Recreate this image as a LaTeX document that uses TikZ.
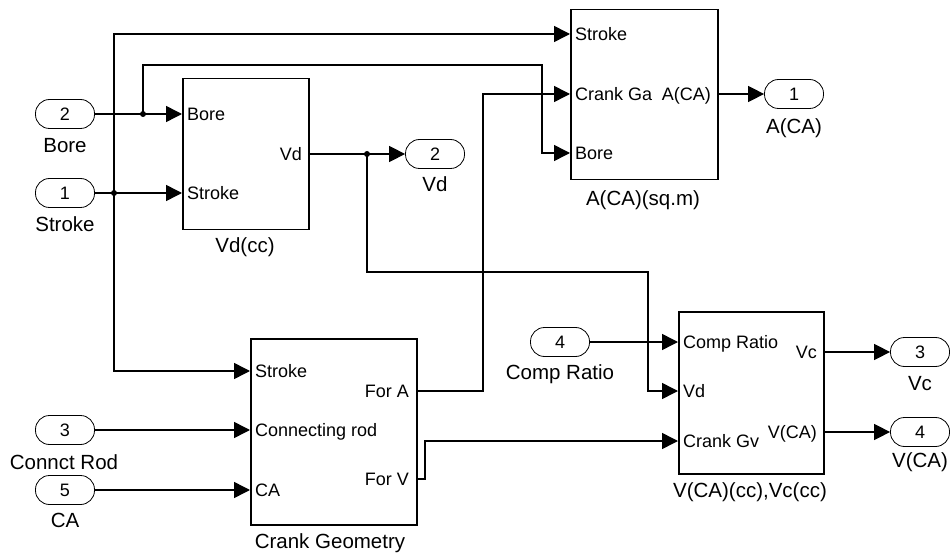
\documentclass[tikz,border=0pt]{standalone}
\usepackage{fontspec}
\setmainfont{Liberation Sans}
\usetikzlibrary{arrows.meta}
\begin{document}
\begin{tikzpicture}[x=1pt,y=-1pt,
  every node/.style={font=\fontsize{18}{21}\selectfont, inner sep=0pt, text height=13pt, text depth=0pt},
  lbl/.style={font=\fontsize{20.5}{24}\selectfont, text height=14.5pt},
  port/.style={draw, line width=0.8pt, rounded corners=14pt, minimum width=59pt, minimum height=29pt},
  block/.style={draw, line width=1.5pt, anchor=north west},
  wire/.style={line width=1.5pt},
  arr/.style={wire, -{Triangle[length=16pt,width=16pt]}},
  dot/.style={circle, fill, inner sep=0pt, minimum size=6pt, text height=, text depth=},
  lin/.style={anchor=west},
  lout/.style={anchor=east}]
\fill[white] (0,0) rectangle (950,553);
\useasboundingbox (0,0) rectangle (950,553);

% blocks
\node[block, minimum width=126pt, minimum height=151pt] (vdb) at (182,78) {};
\node[lbl] (vdbl) at (245,245) {Vd(cc)};
\node[block, minimum width=147pt, minimum height=170pt] (acab) at (570,9) {};
\node[lbl] (acabl) at (643,198) {A(CA)(sq.m)};
\node[block, minimum width=166pt, minimum height=186pt] (cgb) at (250,338) {};
\node[lbl] (cgbl) at (330,541) {Crank Geometry};
\node[block, minimum width=145pt, minimum height=162pt] (vb) at (678,311) {};
\node[lbl] (vbl) at (750,490) {V(CA)(cc),Vc(cc)};

% port labels
\node[lin] (pvdbore) at (187,114) {Bore};
\node[lin] (pvdstroke) at (187,193) {Stroke};
\node[lout] (pvdout) at (302,154) {Vd};
\node[lin] (pastroke) at (575,34) {Stroke};
\node[lin] (pacrank) at (575,94) {Crank Ga};
\node[lin] (pabore) at (575,153) {Bore};
\node[lout] (paout) at (711,94) {A(CA)};
\node[lin] (pcstroke) at (255,371) {Stroke};
\node[lin] (pcrod) at (255,430) {Connecting rod};
\node[lin] (pcca) at (255,490) {CA};
\node[lout] (pcfora) at (409,391) {For A};
\node[lout] (pcforv) at (409,479) {For V};
\node[lin] (pvcomp) at (683,342) {Comp Ratio};
\node[lin] (pvvd) at (683,391) {Vd};
\node[lin] (pvcrank) at (683,441) {Crank Gv};
\node[lout] (pvvc) at (817,352) {Vc};
\node[lout] (pvvca) at (817,432) {V(CA)};

% inports / outports
\node[port] (in2) at (65,114) {2};
\node[lbl] (in2l) at (65,145) {Bore};
\node[port] (in1) at (65,193) {1};
\node[lbl] (in1l) at (65,224) {Stroke};
\node[port] (in3) at (65,430) {3};
\node[lbl] (in3l) at (64,462) {Connct Rod};
\node[port] (in5) at (65,490) {5};
\node[lbl] (in5l) at (65,520) {CA};
\node[port] (in4) at (560,342) {4};
\node[lbl] (in4l) at (560,372) {Comp Ratio};
\node[port] (out2) at (435,154) {2};
\node[lbl] (out2l) at (435,184) {Vd};
\node[port] (out1) at (794,94) {1};
\node[lbl] (out1l) at (794,126) {A(CA)};
\node[port] (out3) at (920,352) {3};
\node[lbl] (out3l) at (920,383) {Vc};
\node[port] (out4) at (920,432) {4};
\node[lbl] (out4l) at (920,460) {V(CA)};

% junctions and bends
\coordinate (jb) at (143,114);
\coordinate (js) at (114,193);
\coordinate (jv) at (367,154);
\coordinate (tb) at (542,65);
\coordinate (tv) at (648,272);
\coordinate (ta) at (483,94);
\coordinate (tf) at (425,441);

% wires
\draw[arr] (in2.east) -- (vdb.west |- pvdbore);
\draw[arr] (in1.east) -- (vdb.west |- pvdstroke);
\draw[arr] (jb) |- (tb) |- (acab.west |- pabore);
\draw[arr] (js) |- (acab.west |- pastroke);
\draw[arr] (js) |- (cgb.west |- pcstroke);
\draw[arr] (vdb.east |- pvdout) -- (out2.west);
\draw[arr] (jv) |- (tv) |- (vb.west |- pvvd);
\draw[arr] (cgb.east |- pcfora) -| (ta) -- (acab.west |- pacrank);
\draw[arr] (cgb.east |- pcforv) -| (tf) -- (vb.west |- pvcrank);
\draw[arr] (in3.east) -- (cgb.west |- pcrod);
\draw[arr] (in5.east) -- (cgb.west |- pcca);
\draw[arr] (in4.east) -- (vb.west |- pvcomp);
\draw[arr] (acab.east |- paout) -- (out1.west);
\draw[arr] (vb.east |- pvvc) -- (out3.west);
\draw[arr] (vb.east |- pvvca) -- (out4.west);

\node[dot] (d1) at (jb) {};
\node[dot] (d2) at (js) {};
\node[dot] (d3) at (jv) {};
\end{tikzpicture}
\end{document}
